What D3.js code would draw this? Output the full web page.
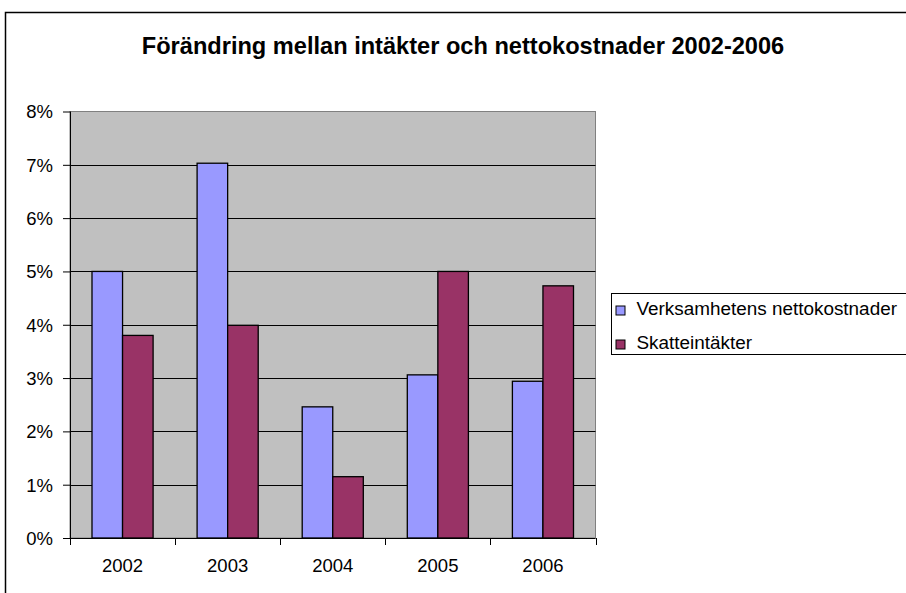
<!DOCTYPE html>
<html>
<head>
<meta charset="utf-8">
<script src="https://cdn.jsdelivr.net/npm/d3@7"></script>
<style>
  body { margin: 0; background: #fff; }
  svg text { font-family: Arial, "Liberation Sans", sans-serif; fill: #000; }
</style>
</head>
<body>
<div id="chart"></div>
<script>
const years = ["2002", "2003", "2004", "2005", "2006"];
const seriesNames = ["Verksamhetens nettokostnader", "Skatteintäkter"];
const nettokostnader = [5.0, 7.03, 2.46, 3.06, 2.94];
const skatteintakter = [3.80, 3.99, 1.15, 5.0, 4.73];
const yTicks = [0, 1, 2, 3, 4, 5, 6, 7, 8];
const colors = ["#9999FF", "#993366"];

const W = 906, H = 593;
const plot = { left: 70, top: 111.5, right: 595.5, bottom: 538 };

const svg = d3.select("#chart").append("svg")
    .attr("width", W)
    .attr("height", H);

// outer chart border (runs off the right and bottom edges)
svg.append("rect")
    .attr("x", 5.5).attr("y", 12.5)
    .attr("width", W + 20).attr("height", H + 20)
    .attr("fill", "#fff")
    .attr("stroke", "#000")
    .attr("stroke-width", 1.5);

svg.append("text")
    .attr("x", 463)
    .attr("y", 54)
    .attr("text-anchor", "middle")
    .style("font-size", "23.6px")
    .style("font-weight", "bold")
    .text("Förändring mellan intäkter och nettokostnader 2002-2006");

const x = d3.scaleBand()
    .domain(years)
    .range([plot.left, plot.right])
    .paddingInner(0).paddingOuter(0);

const xSub = d3.scaleBand()
    .domain(seriesNames)
    .range([0, x.bandwidth()])
    .paddingInner(0)
    .paddingOuter(0.72);

const y = d3.scaleLinear()
    .domain([0, 8])
    .range([plot.bottom, plot.top]);

// plot background
svg.append("rect")
    .attr("x", plot.left).attr("y", plot.top)
    .attr("width", plot.right - plot.left)
    .attr("height", plot.bottom - plot.top)
    .attr("fill", "#C0C0C0")
    .attr("stroke", "#808080")
    .attr("stroke-width", 1);

// gridlines
svg.append("g")
    .selectAll("line")
    .data(yTicks.filter(d => d > 0 && d < 8))
    .join("line")
    .attr("x1", plot.left).attr("x2", plot.right)
    .attr("y1", d => Math.round(y(d)) + 0.5)
    .attr("y2", d => Math.round(y(d)) + 0.5)
    .attr("stroke", "#000")
    .attr("stroke-width", 1);

// bars
const data = years.map((yr, i) => ({ year: yr, values: [
    { name: seriesNames[0], v: nettokostnader[i], c: colors[0] },
    { name: seriesNames[1], v: skatteintakter[i], c: colors[1] }
]}));

svg.append("g")
    .selectAll("g")
    .data(data)
    .join("g")
    .attr("transform", d => `translate(${x(d.year)},0)`)
    .selectAll("rect")
    .data(d => d.values)
    .join("rect")
    .attr("x", d => xSub(d.name))
    .attr("y", d => y(d.v))
    .attr("width", xSub.bandwidth())
    .attr("height", d => y(0) - y(d.v))
    .attr("fill", d => d.c)
    .attr("stroke", "#000")
    .attr("stroke-width", 1.3);

// y axis
const yAxis = svg.append("g")
    .attr("transform", `translate(${plot.left},0)`)
    .call(d3.axisLeft(y)
        .tickValues(yTicks)
        .tickFormat(d => d + "%")
        .tickSize(7)
        .tickPadding(10));
yAxis.selectAll("text").style("font-size", "18.5px").attr("dy", "0.35em");
yAxis.selectAll("line, path").attr("stroke", "#000");
yAxis.select(".domain").attr("d", `M0.5,${plot.top}V${plot.bottom}`);

// x axis with ticks on category boundaries
const xAxis = svg.append("g")
    .attr("transform", `translate(0,${plot.bottom})`);
xAxis.append("line")
    .attr("x1", plot.left).attr("x2", plot.right)
    .attr("y1", 0.5).attr("y2", 0.5)
    .attr("stroke", "#000");
const boundaries = years.map(d => x(d)).concat([x(years[years.length - 1]) + x.bandwidth()]);
xAxis.selectAll("line.tick")
    .data(boundaries)
    .join("line")
    .attr("class", "tick")
    .attr("x1", d => Math.round(d) + 0.5).attr("x2", d => Math.round(d) + 0.5)
    .attr("y1", 0).attr("y2", 7)
    .attr("stroke", "#000");
xAxis.selectAll("text")
    .data(years)
    .join("text")
    .attr("x", d => x(d) + x.bandwidth() / 2)
    .attr("y", 34)
    .attr("text-anchor", "middle")
    .style("font-size", "18.5px")
    .text(d => d);

// legend
const legend = svg.append("g").attr("transform", "translate(611.5,293.5)");
legend.append("rect")
    .attr("x", 0).attr("y", 0)
    .attr("width", 320).attr("height", 61)
    .attr("fill", "#fff")
    .attr("stroke", "#000")
    .attr("stroke-width", 1);
const items = legend.selectAll("g.item")
    .data(seriesNames)
    .join("g")
    .attr("class", "item")
    .attr("transform", (d, i) => `translate(0,${21 + i * 34})`);
items.append("rect")
    .attr("x", 4.5).attr("y", -8.5)
    .attr("width", 9).attr("height", 9)
    .attr("fill", (d, i) => colors[i])
    .attr("stroke", "#000");
items.append("text")
    .attr("x", 25)
    .attr("y", 0)
    .style("font-size", "18.9px")
    .text(d => d);
</script>
</body>
</html>
